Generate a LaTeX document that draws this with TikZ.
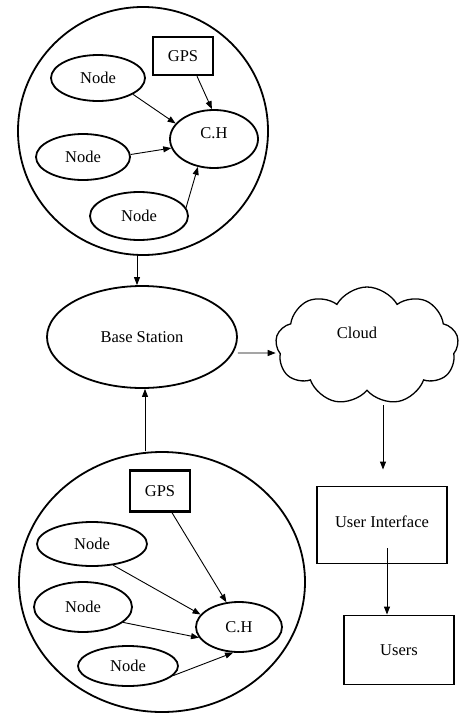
\documentclass[tikz,border=0pt]{standalone}
\usepackage{fontspec}
\setmainfont{Liberation Serif}
\usetikzlibrary{shapes.geometric,shapes.symbols,arrows.meta}
\begin{document}
\begin{tikzpicture}[x=1pt,y=-1pt,
  font=\fontsize{16.5}{19}\selectfont,
  ell/.style={draw,ellipse,line width=1.8pt,inner sep=0pt},
  big/.style={draw,ellipse,line width=1.8pt,inner sep=0pt},
  gpsbox/.style={draw,rectangle,line width=2.4pt,inner sep=0pt},
  sqbox/.style={draw,rectangle,line width=1.9pt,inner sep=0pt},
  arr/.style={-{Triangle[length=8pt,width=6pt]},line width=0.9pt}]
\useasboundingbox (0,0) rectangle (460,715);
% top cluster
\node[big,minimum width=250pt,minimum height=248pt] (c1) at (143,131) {};
\node[gpsbox,minimum width=60pt,minimum height=38pt] (g1) at (183,56) {GPS};
\node[ell,minimum width=94pt,minimum height=46pt] (n1) at (98,78) {Node};
\node[ell,minimum width=94pt,minimum height=46pt] (n2) at (83,157) {Node};
\node[ell,minimum width=98pt,minimum height=48pt] (n3) at (139,216) {Node};
\node[ell,minimum width=88pt,minimum height=58pt] (h1) at (214,139) {};
\node (t1) at (214,133) {C.H};
\draw[arr] ([xshift=14pt]g1.south) -- (h1.94);
\draw[arr] (n1.-25) -- (h1.158);
\draw[arr] (n2.3) -- (h1.192);
\draw[arr] (n3.10) -- (h1.240);
% base station
\node[ell,minimum width=190pt,minimum height=102pt] (bs) at (142,337) {Base Station};
\draw[arr] ([xshift=-6pt]c1.south) -- ([xshift=-5pt]bs.north);
% cloud
\node[cloud,draw,line width=1.3pt,cloud puffs=9,cloud puff arc=120,aspect=1.55,
  minimum width=183pt,minimum height=118pt,inner sep=0pt] (cl) at (367,346) {};
\node (clt) at (357,333) {Cloud};
\draw[arr] ([yshift=-16pt]bs.east) -- ([yshift=-7pt]cl.west);
% user interface and users
\node[sqbox,minimum width=130pt,minimum height=77pt] (ui) at (382,525) {};
\node (uit) at (382,522) {User Interface};
\node[sqbox,minimum width=110pt,minimum height=69pt] (us) at (399,650) {Users};
\coordinate (cb) at (383,405);
\draw[arr,shorten >=16pt] (cb) -- ([xshift=1pt]ui.north);
\draw[arr] ([xshift=5pt,yshift=-23pt]ui.center) -- ([xshift=-12pt]us.north);
% bottom cluster
\node[big,minimum width=286pt,minimum height=260pt] (c2) at (162,582) {};
\draw[arr] ([xshift=-17pt]c2.north) -- ([xshift=3pt]bs.south);
\node[gpsbox,minimum width=60pt,minimum height=41pt] (g2) at (160,491) {GPS};
\node[ell,minimum width=110pt,minimum height=44pt] (na) at (92,544) {Node};
\node[ell,minimum width=98pt,minimum height=50pt] (nb) at (83,607) {Node};
\node[ell,minimum width=100pt,minimum height=40pt] (nc) at (128,666) {Node};
\node[ell,minimum width=86pt,minimum height=50pt] (h2) at (239,627) {C.H};
\draw[arr] ([xshift=12pt]g2.south) -- (h2.117);
\draw[arr] (na.-45) -- (h2.162);
\draw[arr] (nb.-21) -- (h2.195);
\draw[arr] (nc.-12) -- (h2.257);
\end{tikzpicture}
\end{document}
